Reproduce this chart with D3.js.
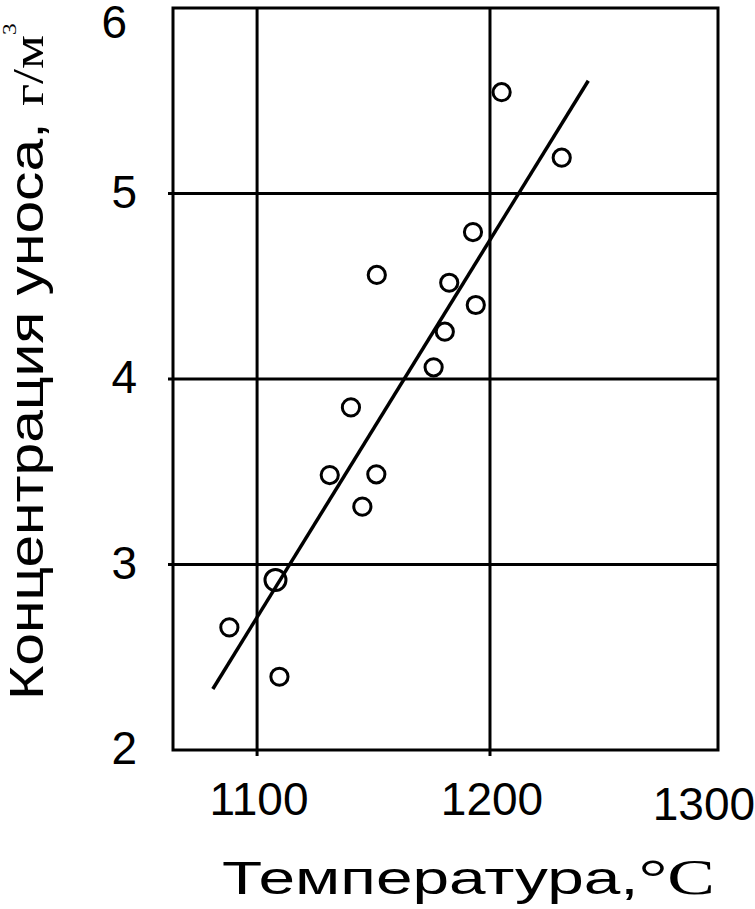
<!DOCTYPE html>
<html><head><meta charset="utf-8">
<script src="https://cdn.jsdelivr.net/npm/d3@7"></script>
<style>body{margin:0;background:#fff}svg{display:block}</style>
</head><body><svg id="c" width="755" height="909"></svg>
<script>
// data
const temperature = [1088.1, 1107.9, 1109.6, 1131.2, 1140.3, 1145.2, 1151.2, 1151.4, 1175.8, 1180.6, 1182.5, 1193.9, 1192.7, 1205.0, 1230.8];
const concentration = [2.661, 2.916, 2.395, 3.482, 3.847, 3.312, 3.486, 4.561, 4.063, 4.255, 4.519, 4.399, 4.792, 5.546, 5.193];
const repeats = [1, 2, 1, 1, 1, 1, 1, 1, 1, 1, 1, 1, 1, 1, 1];
const fitX = [1081.0, 1242.2];
const fitY = [2.329, 5.608];
const xTicks = [1100, 1200, 1300];
const yTicks = [2, 3, 4, 5, 6];
const xGrid = [1100, 1200];
const yGrid = [3, 4, 5];

const svg = d3.select('#c');
const L = 173, R = 718, T = 8, B = 750;
const x = d3.scaleLinear().domain([1063.9, 1297.9]).range([L, R]);
const y = d3.scaleLinear().domain([2, 6]).range([B, T]);
const sans = "'Liberation Sans', Arial, sans-serif";
const serif = "'Liberation Serif', 'Times New Roman', serif";

// grid
svg.append('g').selectAll('line.v').data(xGrid).join('line')
  .attr('x1', d => x(d)).attr('x2', d => x(d)).attr('y1', T).attr('y2', B + 6)
  .attr('stroke', '#000').attr('stroke-width', 3);
svg.append('g').selectAll('line.h').data(yGrid).join('line')
  .attr('x1', L - 5).attr('x2', R).attr('y1', d => y(d)).attr('y2', d => y(d))
  .attr('stroke', '#000').attr('stroke-width', 3);
// frame
svg.append('rect').attr('x', L).attr('y', T).attr('width', R - L).attr('height', B - T)
  .attr('fill', 'none').attr('stroke', '#000').attr('stroke-width', 3);

// tick labels
svg.append('g').selectAll('text').data(xTicks).join('text')
  .attr('x', d => x(d) + (d === 1300 ? -19 : 2))
  .attr('y', d => d === 1300 ? 820 : 815)
  .attr('text-anchor', 'middle').attr('font-family', sans).attr('font-size', 46)
  .text(d => d);
svg.append('g').selectAll('text').data(yTicks).join('text')
  .attr('x', d => d === 6 ? 127 : 137)
  .attr('y', d => d === 6 ? 38 : y(d) + 14)
  .attr('text-anchor', 'end').attr('font-family', sans).attr('font-size', 46)
  .text(d => d);

// fit line
const pts = fitX.map((v, i) => [v, fitY[i]]);
svg.append('path').attr('d', d3.line().x(d => x(d[0])).y(d => y(d[1]))(pts))
  .attr('stroke', '#000').attr('stroke-width', 3.5).attr('fill', 'none');

// points
svg.append('g').selectAll('circle').data(temperature).join('circle')
  .attr('cx', d => x(d)).attr('cy', (d, i) => y(concentration[i]))
  .attr('r', (d, i) => repeats[i] > 1 ? 10.5 : 8.6)
  .attr('fill', 'none').attr('stroke', '#000').attr('stroke-width', 3);

// x title
const xt = svg.append('text').attr('font-family', sans).attr('font-size', 47);
xt.append('tspan').text('Температура,');
xt.append('tspan').attr('font-family', serif).attr('font-size', 51).text('°С');
{
  const w = xt.node().getBBox().width;
  xt.attr('transform', `translate(222,894) scale(${493 / w},1)`);
}
// y title
const yt = svg.append('text').attr('font-family', sans).attr('font-size', 48);
yt.append('tspan').text('Концентрация уноса, ');
yt.append('tspan').attr('font-family', serif).attr('font-size', 44).text('г/м');
yt.append('tspan').attr('font-family', serif).attr('font-size', 19).attr('dy', -27).text('3');
{
  const w = yt.node().getBBox().width;
  yt.attr('transform', `translate(43,700) rotate(-90) scale(${677 / w},1)`);
}
</script></body></html>
